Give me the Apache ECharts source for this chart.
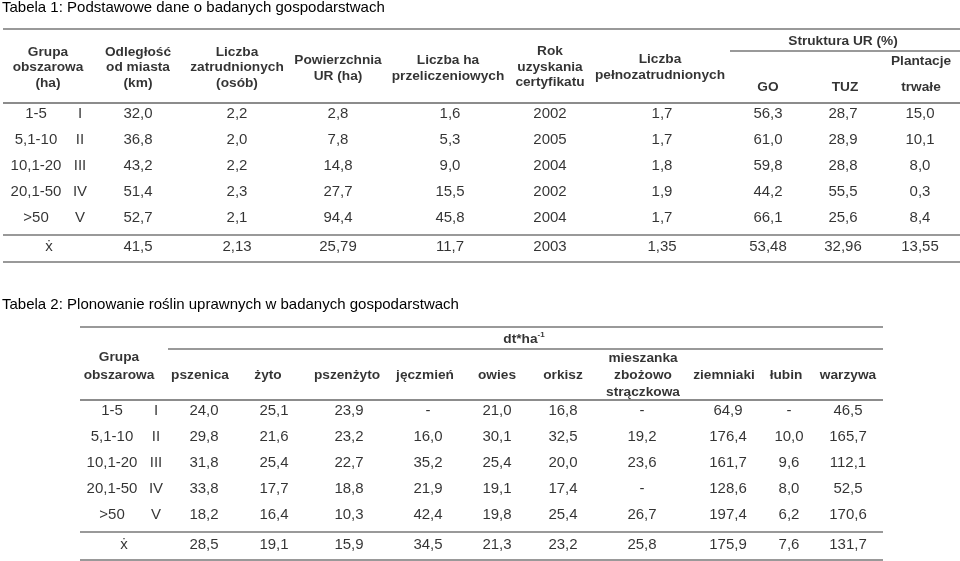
<!DOCTYPE html>
<html>
<head>
<meta charset="utf-8">
<script src="https://cdn.jsdelivr.net/npm/echarts@6/dist/echarts.min.js"></script>
<style>
html, body { margin: 0; padding: 0; background: #fff; }
#chart { width: 960px; height: 561px; }
</style>
</head>
<body>
<div id="chart"></div>
<script>
// ---- Tabela 1: Podstawowe dane o badanych gospodarstwach ----
const t1Groups = ['1-5', '5,1-10', '10,1-20', '20,1-50', '>50'];
const t1Classes = ['I', 'II', 'III', 'IV', 'V'];
const t1Headers = ['Odległość\nod miasta\n(km)', 'Liczba\nzatrudnionych\n(osób)', 'Powierzchnia\nUR (ha)',
    'Liczba ha\nprzeliczeniowych', 'Rok\nuzyskania\ncertyfikatu', 'Liczba\npełnozatrudnionych', 'GO', 'TUZ', 'trwałe'];
const t1Distance = [32.0, 36.8, 43.2, 51.4, 52.7];
const t1Employed = [2.2, 2.0, 2.2, 2.3, 2.1];
const t1Area = [2.8, 7.8, 14.8, 27.7, 94.4];
const t1ConvHa = [1.6, 5.3, 9.0, 15.5, 45.8];
const t1CertYear = [2002, 2005, 2004, 2002, 2004];
const t1FullTime = [1.7, 1.7, 1.8, 1.9, 1.7];
const t1GO = [56.3, 61.0, 59.8, 44.2, 66.1];
const t1TUZ = [28.7, 28.9, 28.8, 55.5, 25.6];
const t1Perm = [15.0, 10.1, 8.0, 0.3, 8.4];
const t1Mean = [41.5, 2.13, 25.79, 11.7, 2003, 1.35, 53.48, 32.96, 13.55];

// ---- Tabela 2: Plonowanie roślin uprawnych ----
const t2Groups = ['1-5', '5,1-10', '10,1-20', '20,1-50', '>50'];
const t2Classes = ['I', 'II', 'III', 'IV', 'V'];
const t2Crops = ['pszenica', 'żyto', 'pszenżyto', 'jęczmień', 'owies', 'orkisz',
    'mieszanka\nzbożowo\nstrączkowa', 'ziemniaki', 'łubin', 'warzywa'];
const t2Wheat = [24.0, 29.8, 31.8, 33.8, 18.2];
const t2Rye = [25.1, 21.6, 25.4, 17.7, 16.4];
const t2Triticale = [23.9, 23.2, 22.7, 18.8, 10.3];
const t2Barley = [null, 16.0, 35.2, 21.9, 42.4];
const t2Oats = [21.0, 30.1, 25.4, 19.1, 19.8];
const t2Spelt = [16.8, 32.5, 20.0, 17.4, 25.4];
const t2Mix = [null, 19.2, 23.6, null, 26.7];
const t2Potato = [64.9, 176.4, 161.7, 128.6, 197.4];
const t2Lupin = [null, 10.0, 9.6, 8.0, 6.2];
const t2Veg = [46.5, 165.7, 112.1, 52.5, 170.6];
const t2Mean = [28.5, 19.1, 15.9, 34.5, 21.3, 23.2, 25.8, 175.9, 7.6, 131.7];

// layout (pixels inside each table block)
const FONT = '"Liberation Sans", Arial, Helvetica, sans-serif';
const t1Cols = [t1Distance, t1Employed, t1Area, t1ConvHa, t1CertYear, t1FullTime, t1GO, t1TUZ, t1Perm];
const t1Dec = [1, 1, 1, 1, 0, 1, 1, 1, 1];
const t1MeanDec = [1, 2, 2, 1, 0, 2, 2, 2, 2];
const t1ColX = [138, 237, 338, 450, 550, 662, 768, 843, 920];
const t1HeadX = [138, 237, 338, 448, 550, 660, 768, 845, 921];
const t1HeadY = [38.5, 38.5, 39, 39, 38, 38.5, 58, 58, 58];

const t2Cols = [t2Wheat, t2Rye, t2Triticale, t2Barley, t2Oats, t2Spelt, t2Mix, t2Potato, t2Lupin, t2Veg];
const t2ColX = [204, 274, 349, 428, 497, 563, 642, 728, 789, 848];
const t2HeadX = [200, 268, 347, 425, 497, 563, 643, 724, 786, 848];

function fmt(v, d) {
    return v == null ? '-' : v.toFixed(d).replace('.', ',');
}

const bodyLabel = { fontSize: 15, fontFamily: FONT, color: '#000' };
const headLabel = { fontSize: 13.7, fontWeight: 'bold', fontFamily: FONT, color: '#000', lineHeight: 16 };

function cell(x, y, text, style) {
    return { name: text, value: [x, y], label: style };
}

// table 1 cells
const t1Cells = [];
t1Groups.forEach((g, i) => {
    const y = 85 + 26 * i;
    t1Cells.push(cell(36, y, g, bodyLabel));
    t1Cells.push(cell(80, y, t1Classes[i], bodyLabel));
    t1Cols.forEach((col, j) => t1Cells.push(cell(t1ColX[j], y, fmt(col[i], t1Dec[j]), bodyLabel)));
});
t1Cells.push(cell(49, 218, 'ẋ', bodyLabel));
t1Mean.forEach((v, j) => t1Cells.push(cell(t1ColX[j], 218, fmt(v, t1MeanDec[j]), bodyLabel)));
t1Cells.push(cell(48, 38.5, 'Grupa\nobszarowa\n(ha)', Object.assign({}, headLabel, { lineHeight: 15.5 })));
t1Headers.forEach((h, j) => t1Cells.push(cell(t1HeadX[j], t1HeadY[j], h,
    Object.assign({}, headLabel, { lineHeight: h.split('\n').length > 2 ? 15.5 : 16 }))));
t1Cells.push(cell(843, 12, 'Struktura UR (%)', headLabel));
t1Cells.push(cell(921, 32, 'Plantacje', headLabel));

// table 2 cells
const t2Cells = [];
t2Groups.forEach((g, i) => {
    const y = 84 + 26 * i;
    t2Cells.push(cell(112, y, g, bodyLabel));
    t2Cells.push(cell(156, y, t2Classes[i], bodyLabel));
    t2Cols.forEach((col, j) => t2Cells.push(cell(t2ColX[j], y, fmt(col[i], 1), bodyLabel)));
});
t2Cells.push(cell(124, 218, 'ẋ', bodyLabel));
t2Mean.forEach((v, j) => t2Cells.push(cell(t2ColX[j], 218, fmt(v, 1), bodyLabel)));
t2Cells.push(cell(119, 39, 'Grupa\nobszarowa', Object.assign({}, headLabel, { lineHeight: 18 })));
t2Crops.forEach((h, j) => t2Cells.push(cell(t2HeadX[j], 48, h, Object.assign({}, headLabel, { lineHeight: 17 }))));
t2Cells.push(cell(524, 12, '{a|dt*ha}{s|-1}', Object.assign({}, headLabel, {
    rich: {
        a: { fontSize: 13.7, fontWeight: 'bold', fontFamily: FONT, color: '#000' },
        s: { fontSize: 8, fontWeight: 'bold', fontFamily: FONT, color: '#000', verticalAlign: 'top' }
    }
})));

function rule(x1, x2, y, w, c) {
    return [{ coord: [x1, y], lineStyle: { width: w || 1.7, color: c || '#777', type: 'solid' } }, { coord: [x2, y] }];
}

const t1Rules = [rule(3, 960, 0), rule(730, 960, 22), rule(3, 960, 74, 2.2, '#8c8c8c'), rule(3, 960, 206), rule(3, 960, 233)];
const t2Rules = [rule(80, 883, 0), rule(168, 883, 22), rule(80, 883, 73, 2.2, '#8c8c8c'), rule(80, 883, 205), rule(80, 883, 233)];

function tableSeries(idx, cells, rules) {
    return {
        type: 'scatter',
        xAxisIndex: idx,
        yAxisIndex: idx,
        symbolSize: 1,
        itemStyle: { color: 'rgba(0,0,0,0)' },
        label: { show: true, position: 'inside', formatter: '{b}', align: 'center', verticalAlign: 'middle' },
        silent: true,
        data: cells,
        markLine: { silent: true, symbol: ['none', 'none'], label: { show: false }, data: rules },
        z: 2
    };
}

const chart = echarts.init(document.getElementById('chart'));
chart.setOption({
    animation: false,
    backgroundColor: '#fff',
    title: [
        { text: 'Tabela 1: Podstawowe dane o badanych gospodarstwach', left: 2, top: 0.5, padding: 0,
          textStyle: { fontSize: 15, fontWeight: 'normal', fontFamily: FONT, color: '#000' } },
        { text: 'Tabela 2: Plonowanie roślin uprawnych w badanych gospodarstwach', left: 2, top: 297.5, padding: 0,
          textStyle: { fontSize: 15, fontWeight: 'normal', fontFamily: FONT, color: '#000' } }
    ],
    grid: [
        { left: 0, right: 0, top: 29, height: 233 },
        { left: 0, right: 0, top: 327, height: 233 }
    ],
    xAxis: [
        { type: 'value', gridIndex: 0, min: 0, max: 960, show: false },
        { type: 'value', gridIndex: 1, min: 0, max: 960, show: false }
    ],
    yAxis: [
        { type: 'value', gridIndex: 0, min: 0, max: 233, inverse: true, show: false },
        { type: 'value', gridIndex: 1, min: 0, max: 233, inverse: true, show: false }
    ],
    series: [
        tableSeries(0, t1Cells, t1Rules),
        tableSeries(1, t2Cells, t2Rules)
    ]
});
</script>
</body>
</html>
